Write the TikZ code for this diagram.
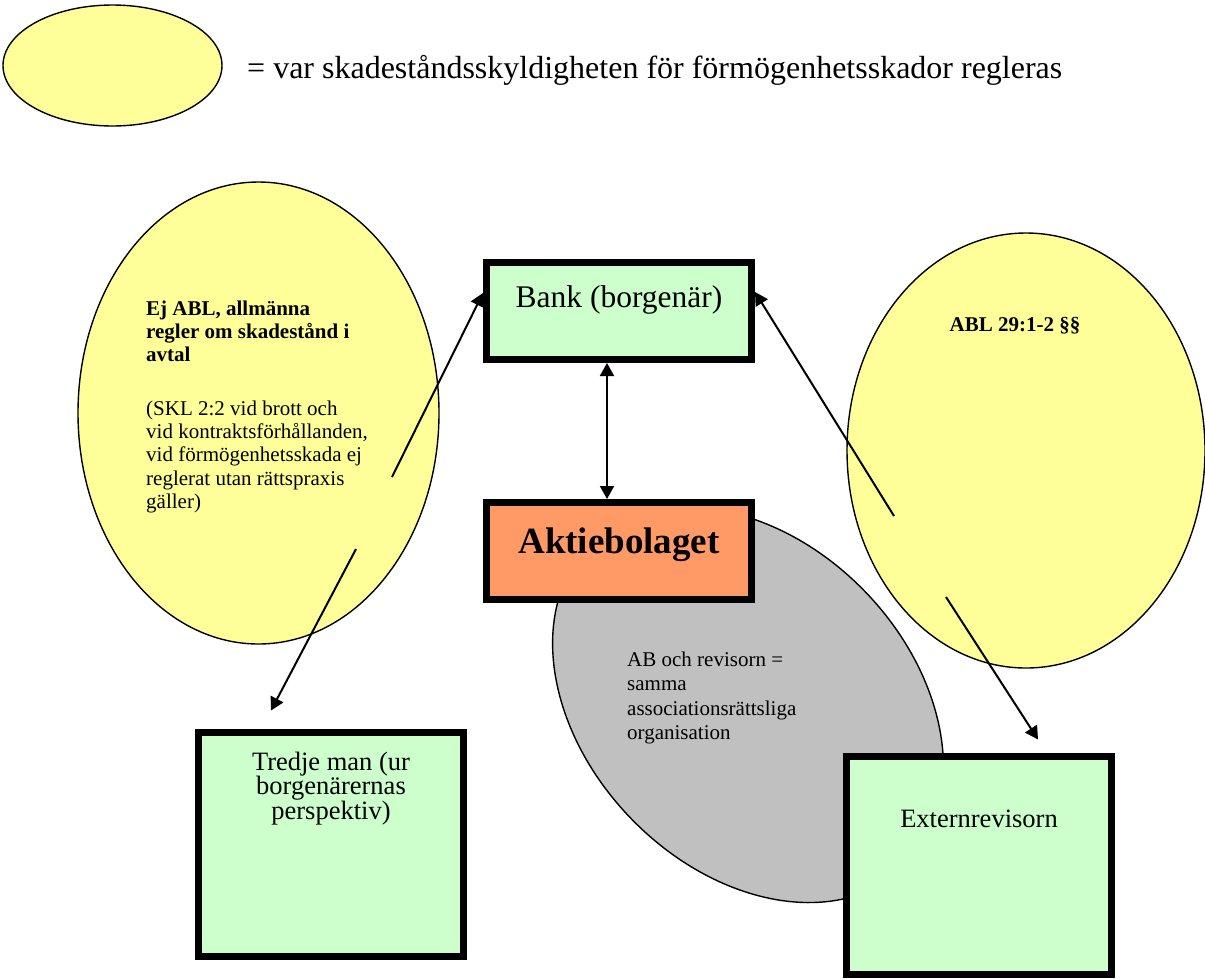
\documentclass[tikz,border=0pt]{standalone}
\usepackage{fontspec}
\setmainfont{Liberation Serif}
\usetikzlibrary{shapes.geometric,arrows.meta}
\definecolor{yel}{HTML}{FFFF99}
\definecolor{grn}{HTML}{CCFFCC}
\definecolor{org}{HTML}{FF9966}
\definecolor{gry}{HTML}{C0C0C0}
\begin{document}
\begin{tikzpicture}[x=1pt,y=-1pt,
  oval/.style={ellipse, draw, line width=1.4pt, fill=yel, inner sep=0pt},
  heavybox/.style={rectangle, draw, line width=7pt, fill=grn, inner sep=0pt, minimum width=265pt},
  smalltxt/.style={inner sep=0pt, align=left, font=\fontsize{21}{23.3}\selectfont},
  boxtxt/.style={inner sep=0pt, align=center, font=\fontsize{26.5}{24.5}\selectfont},
  arr/.style={line width=2pt, -{Triangle[length=13pt,width=14pt]}}
]
\useasboundingbox (0,0) rectangle (1205,978);
\fill[white] (0,0) rectangle (1205,978);

% legend
\node[oval, minimum width=219pt, minimum height=121pt] (legend) at (112.5,65.5) {};
\node[anchor=base west, inner sep=0pt, font=\fontsize{32}{36}\selectfont] (legendtxt) at (247,78.5) {= var skadeståndsskyldigheten för förmögenhetsskador regleras};

% grey ellipse
\node[ellipse, draw, line width=1.4pt, fill=gry, inner sep=0pt, minimum width=450pt, minimum height=326pt, rotate=-46] (grey) at (748,705) {};

% yellow ellipses
\node[oval, minimum width=361pt, minimum height=462pt] (left) at (258.5,413) {};
\node[oval, minimum width=358pt, minimum height=435pt] (right) at (1026,450.5) {};

% boxes
\node[heavybox, minimum height=97pt] (bank) at (619,311) {};
\node[heavybox, fill=org, minimum height=97pt] (ab) at (619,551) {};
\node[heavybox, minimum height=224pt] (tredje) at (331,844.5) {};
\node[heavybox, minimum height=218pt] (extern) at (979,865.5) {};

% texts
\node[anchor=base, inner sep=0pt, font=\fontsize{31.5}{36}\selectfont] (banktxt) at (619,307) {Bank (borgenär)};
\node[anchor=base, inner sep=0pt, font=\fontsize{37}{40}\selectfont\bfseries] (abtxt) at (619,553) {Aktiebolaget};
\node[boxtxt, anchor=north] (tredjetxt) at (331,751.6) {Tredje man (ur\\borgenärernas\\perspektiv)};
\node[anchor=base, inner sep=0pt, font=\fontsize{26.5}{24.5}\selectfont] (externtxt) at (979,827) {Externrevisorn};

\node[smalltxt, anchor=north west, font=\fontsize{21}{23.3}\selectfont\bfseries] (ejbold) at (146,300.5) {Ej ABL, allmänna\\regler om skadestånd i\\avtal};
\node[smalltxt, anchor=north west] (ejreg) at (146,400.4) {(SKL 2:2 vid brott och\\vid kontraktsförhållanden,\\vid förmögenhetsskada ej\\reglerat utan rättspraxis\\gäller)};
\node[anchor=base, inner sep=0pt, font=\fontsize{21}{23.3}\selectfont\bfseries] (abltxt) at (1015,331) {ABL 29:1-2 §§};
\node[smalltxt, anchor=north west, font=\fontsize{21}{24.5}\selectfont] (greytxt) at (627,651.5) {AB och revisorn =\\samma\\associationsrättsliga\\organisation};

% connectors
\coordinate (lstart) at (392,477);
\coordinate (rstart) at (894,516);
\coordinate (lstart2) at (356,549);
\coordinate (rstart2) at (946,597);
\draw[arr] (lstart) -- ([yshift=18pt]bank.west);
\draw[arr] (rstart) -- ([yshift=19pt]bank.east);
\draw[arr, {Triangle[length=13pt,width=14pt]}-{Triangle[length=13pt,width=14pt]}] ([xshift=-12pt]bank.south) -- ([xshift=-12pt]ab.north);
\draw[arr] (lstart2) -- ([xshift=-60pt,yshift=18.5pt]tredje.north);
\draw[arr] (rstart2) -- ([xshift=59pt,yshift=13.5pt]extern.north);
\end{tikzpicture}
\end{document}
